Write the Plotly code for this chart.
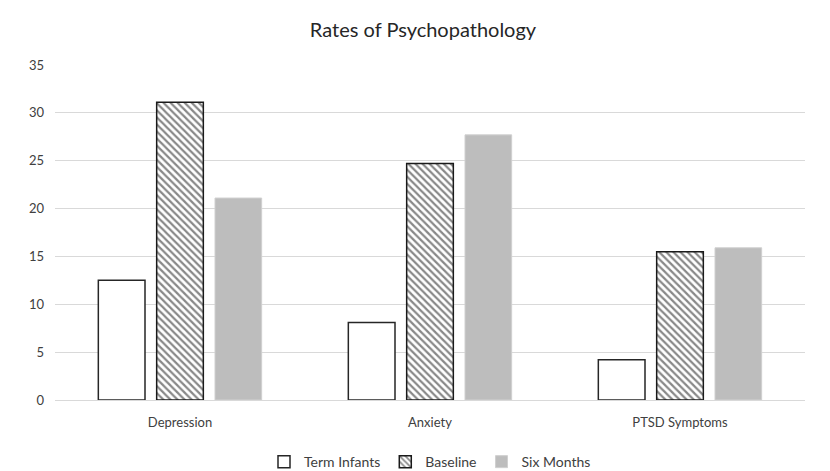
import plotly.graph_objects as go

categories = ["Depression", "Anxiety", "PTSD Symptoms"]
term_infants = [12.5, 8.1, 4.2]
baseline = [31.1, 24.7, 15.5]
six_months = [21.1, 27.7, 15.9]
y_ticks = [0, 5, 10, 15, 20, 25, 30, 35]

FONT = "Lato, Open Sans, sans-serif"

fig = go.Figure()
fig.add_trace(go.Bar(
    name="Term Infants", x=categories, y=term_infants,
    marker=dict(color="white", line=dict(color="#262626", width=1.5)),
))
fig.add_trace(go.Bar(
    name="Baseline", x=categories, y=baseline,
    marker=dict(color="white", line=dict(color="#1a1a1a", width=1.5),
                pattern=dict(shape="\\", fgcolor="#111111", bgcolor="white",
                             size=5, solidity=0.45)),
))
fig.add_trace(go.Bar(
    name="Six Months", x=categories, y=six_months,
    marker=dict(color="#BDBDBD", line=dict(color="#D0D0D0", width=1)),
))

fig.update_layout(
    width=830, height=471,
    paper_bgcolor="white", plot_bgcolor="white",
    margin=dict(l=47, r=33, t=57, b=79),
    barmode="group", bargap=0.3, bargroupgap=0.2,
    title=dict(text="Rates of Psychopathology", x=0.5, xanchor="center",
               y=0.953, yanchor="middle",
               font=dict(family=FONT, size=20, color="#262626")),
    font=dict(family=FONT, size=13, color="#404040"),
    legend=dict(orientation="h", x=0.5, xanchor="center",
                yref="container", y=0.036, yanchor="middle",
                font=dict(family=FONT, size=14, color="#404040"),
                itemwidth=30, traceorder="normal"),
    showlegend=True,
)
fig.update_yaxes(range=[0, 35], tickvals=y_ticks, showgrid=True,
                 gridcolor="#D9D9D9", gridwidth=1, zeroline=False,
                 showline=False, ticks="", ticklen=0, ticklabelstandoff=10,
                 tickfont=dict(family=FONT, size=13, color="#404040"))
fig.update_xaxes(showline=True, linecolor="#D9D9D9", linewidth=1, ticks="",
                 ticklabelstandoff=10,
                 tickfont=dict(family=FONT, size=13, color="#404040"))

fig.write_html("out.html")
